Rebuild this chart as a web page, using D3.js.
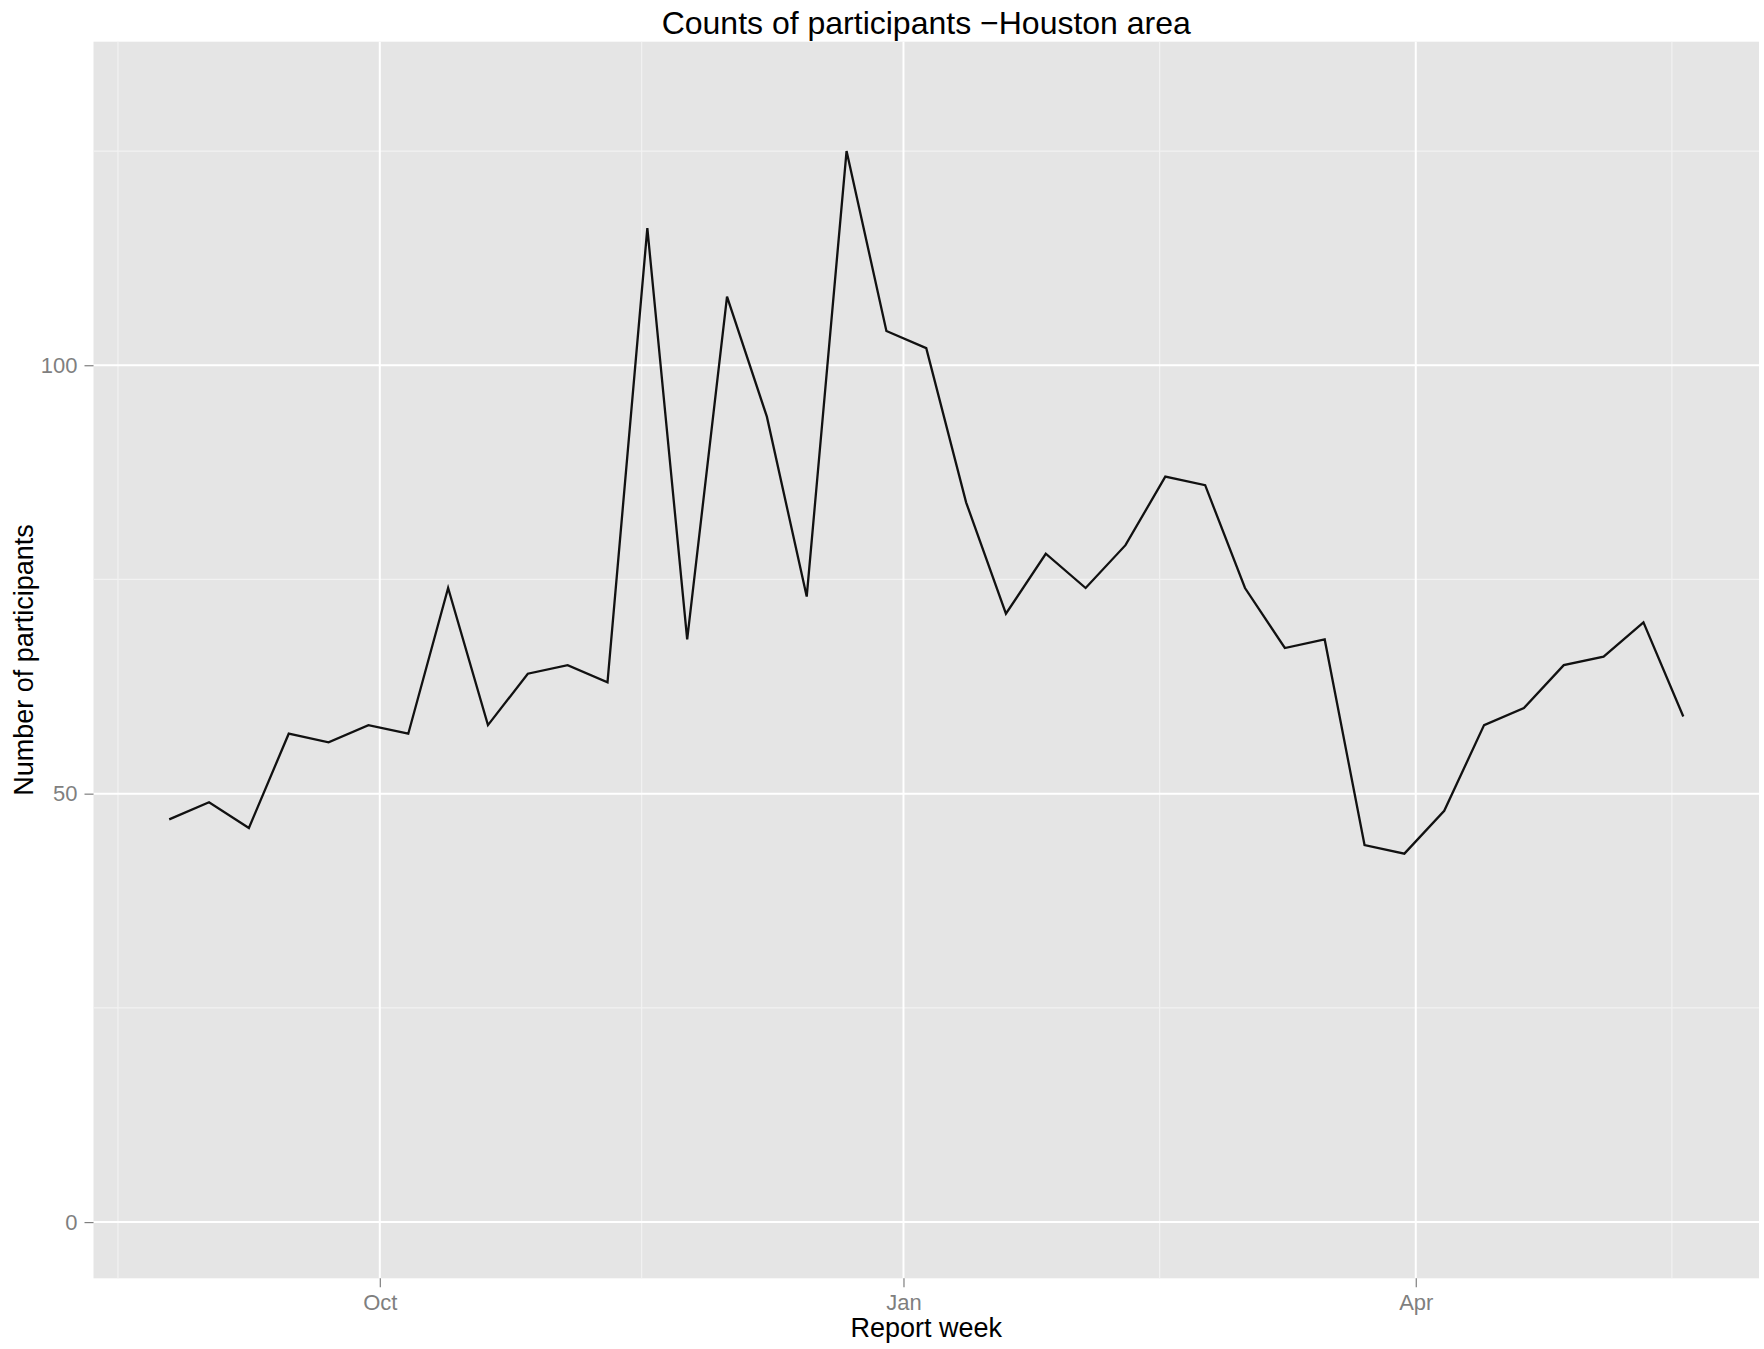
<!DOCTYPE html>
<html>
<head>
<meta charset="utf-8">
<script src="https://cdn.jsdelivr.net/npm/d3@7"></script>
<style>
  html, body { margin: 0; padding: 0; background: #ffffff; }
  svg { display: block; }
  text { font-family: "Liberation Sans", Arial, Helvetica, sans-serif; }
</style>
</head>
<body>
<svg id="chart" width="1764" height="1349"></svg>
<script>
// ---------- data ----------
const reportWeeks = [
  "2012-08-25","2012-09-01","2012-09-08","2012-09-15","2012-09-22","2012-09-29",
  "2012-10-06","2012-10-13","2012-10-20","2012-10-27","2012-11-03","2012-11-10",
  "2012-11-17","2012-11-24","2012-12-01","2012-12-08","2012-12-15","2012-12-22",
  "2012-12-29","2013-01-05","2013-01-12","2013-01-19","2013-01-26","2013-02-02",
  "2013-02-09","2013-02-16","2013-02-23","2013-03-02","2013-03-09","2013-03-16",
  "2013-03-23","2013-03-30","2013-04-06","2013-04-13","2013-04-20","2013-04-27",
  "2013-05-04","2013-05-11","2013-05-18"
];
const participants = [
  47, 49, 46, 57, 56, 58,
  57, 74, 58, 64, 65, 63,
  116, 68, 108, 94, 73, 125,
  104, 102, 84, 71, 78, 74,
  79, 87, 86, 74, 67, 68,
  44, 43, 48, 58, 60, 65,
  66, 70, 59
];
const xMajorTicks = ["2012-10-01", "2013-01-01", "2013-04-01"];
const xMinorTicks = ["2012-08-16", "2012-11-16", "2013-02-15", "2013-05-16"];
const yMajorTicks = [0, 50, 100];
const yMinorTicks = [25, 75, 125];
const yLimits = [0, 131.2];

const titleText = "Counts of participants \u2212Houston area";
const xTitle = "Report week";
const yTitle = "Number of participants";

// ---------- layout ----------
const W = 1764, H = 1349;
const panel = { left: 93.5, right: 1759, top: 41.7, bottom: 1278.3 };

const parse = d3.utcParse("%Y-%m-%d");
const data = reportWeeks.map((d, i) => ({ date: parse(d), value: participants[i] }));

const svg = d3.select("#chart");

// ggplot-like 5% expansion
const xExt = d3.extent(data, d => d.date);
const xSpan = xExt[1] - xExt[0];
const x = d3.scaleUtc()
  .domain([new Date(+xExt[0] - 0.05 * xSpan), new Date(+xExt[1] + 0.05 * xSpan)])
  .range([panel.left, panel.right]);

const ySpan = yLimits[1] - yLimits[0];
const y = d3.scaleLinear()
  .domain([yLimits[0] - 0.05 * ySpan, yLimits[1] + 0.05 * ySpan])
  .range([panel.bottom, panel.top]);

// panel background
svg.append("rect")
  .attr("x", panel.left).attr("y", panel.top)
  .attr("width", panel.right - panel.left)
  .attr("height", panel.bottom - panel.top)
  .attr("fill", "#e5e5e5");

const grid = svg.append("g");
// minor grid
grid.selectAll(".ymin").data(yMinorTicks).join("line")
  .attr("x1", panel.left).attr("x2", panel.right)
  .attr("y1", d => y(d)).attr("y2", d => y(d))
  .attr("stroke", "#f2f2f2").attr("stroke-width", 1.2);
grid.selectAll(".xmin").data(xMinorTicks.map(parse)).join("line")
  .attr("y1", panel.top).attr("y2", panel.bottom)
  .attr("x1", d => x(d)).attr("x2", d => x(d))
  .attr("stroke", "#f2f2f2").attr("stroke-width", 1.2);
// major grid
grid.selectAll(".ymaj").data(yMajorTicks).join("line")
  .attr("x1", panel.left).attr("x2", panel.right)
  .attr("y1", d => y(d)).attr("y2", d => y(d))
  .attr("stroke", "#ffffff").attr("stroke-width", 2);
grid.selectAll(".xmaj").data(xMajorTicks.map(parse)).join("line")
  .attr("y1", panel.top).attr("y2", panel.bottom)
  .attr("x1", d => x(d)).attr("x2", d => x(d))
  .attr("stroke", "#ffffff").attr("stroke-width", 2);

// line
const line = d3.line().x(d => x(d.date)).y(d => y(d.value));
svg.append("path")
  .datum(data)
  .attr("d", line)
  .attr("fill", "none")
  .attr("stroke", "#111111")
  .attr("stroke-width", 2.3)
  .attr("stroke-linejoin", "miter");

// axes
const xAxis = d3.axisBottom(x)
  .tickValues(xMajorTicks.map(parse))
  .tickFormat(d3.utcFormat("%b"))
  .tickSize(9).tickPadding(7);
const gx = svg.append("g")
  .attr("transform", `translate(0,${panel.bottom})`)
  .call(xAxis);

const yAxis = d3.axisLeft(y)
  .tickValues(yMajorTicks)
  .tickSize(9).tickPadding(7);
const gy = svg.append("g")
  .attr("transform", `translate(${panel.left},0)`)
  .call(yAxis);

[gx, gy].forEach(g => {
  g.select(".domain").remove();
  g.selectAll(".tick line").attr("stroke", "#7f7f7f").attr("stroke-width", 1.2);
  g.selectAll(".tick text")
    .attr("fill", "#7f7f7f")
    .style("font-size", "22px")
    .style("font-family", "'Liberation Sans', Arial, sans-serif");
});

// titles
svg.append("text")
  .attr("x", (panel.left + panel.right) / 2)
  .attr("y", 34)
  .attr("text-anchor", "middle")
  .style("font-size", "32px")
  .attr("fill", "#000")
  .text(titleText);

svg.append("text")
  .attr("x", (panel.left + panel.right) / 2)
  .attr("y", 1337)
  .attr("text-anchor", "middle")
  .style("font-size", "27px")
  .attr("fill", "#000")
  .text(xTitle);

svg.append("text")
  .attr("transform", `translate(33,${(panel.top + panel.bottom) / 2}) rotate(-90)`)
  .attr("text-anchor", "middle")
  .style("font-size", "27px")
  .attr("fill", "#000")
  .text(yTitle);
</script>
</body>
</html>
